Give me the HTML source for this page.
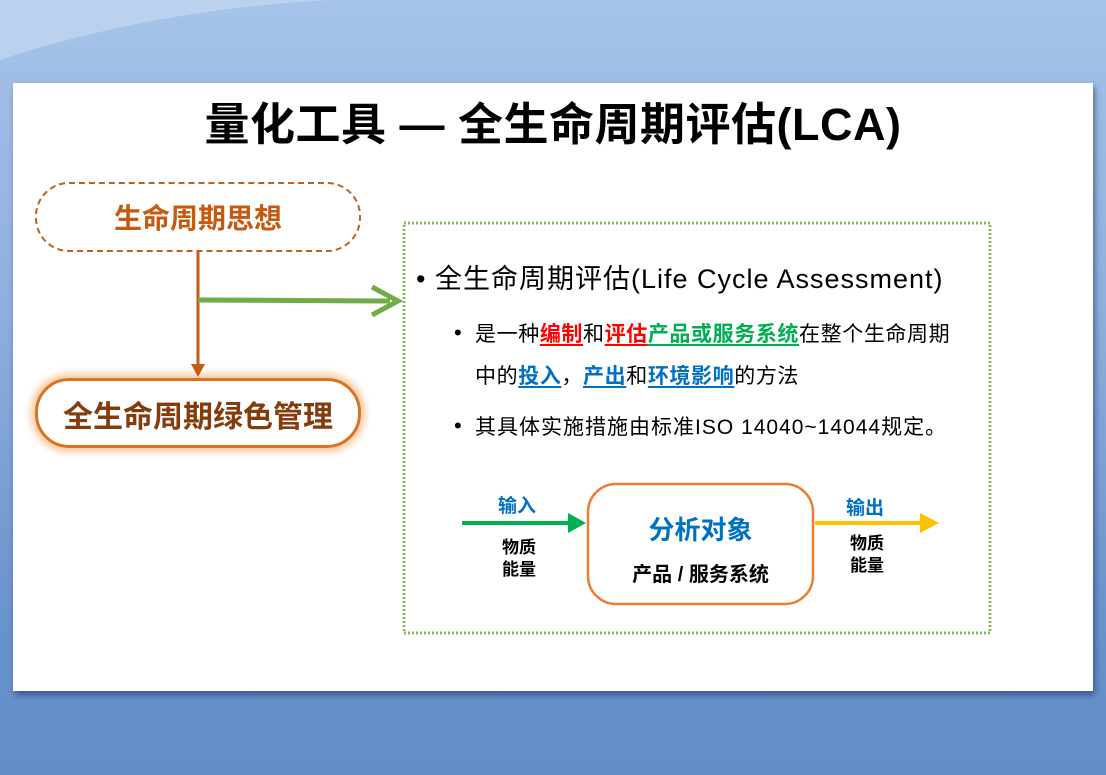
<!DOCTYPE html>
<html><head><meta charset="utf-8"><style>
body{margin:0;width:1106px;height:775px;overflow:hidden;background:linear-gradient(180deg,#a6c3e8 0%,#8fb0dd 40%,#6a93cc 80%,#628ec8 100%);position:relative;font-family:"Liberation Sans","Noto Sans CJK SC",sans-serif}
.a{position:absolute}
.panel{left:13px;top:83px;width:1080px;height:608px;background:#fff;box-shadow:2px 4px 6px rgba(30,50,90,.6)}
.t{white-space:nowrap}
u{text-decoration-thickness:2px;text-underline-offset:3px}
.s{font-size:21px;letter-spacing:0.6px;color:#000}
.b{font-size:22px;font-family:"Liberation Sans",sans-serif}
</style></head><body>
<svg class="a" style="left:0;top:0" width="1106" height="90"><path d="M0 60 Q150 10 330 0 L0 0Z" fill="#c4d8f2" opacity=".7"/></svg>
<div class="a panel"></div>
<div class="a t" style="left:0;width:1106px;top:88px;text-align:center;font-size:45px;letter-spacing:0.5px;font-weight:bold;color:#000">量化工具 — 全生命周期评估(LCA)</div>
<div class="a" style="left:35px;top:182px;width:322px;height:66px;border:2.5px dashed #c0601c;border-radius:34px"></div>
<div class="a t" style="left:35px;width:326px;top:197px;text-align:center;font-size:28px;font-weight:bold;color:#c55a11">生命周期思想</div>
<div class="a" style="left:35px;top:378px;width:320px;height:64px;border:3px solid #d9731f;border-radius:34px;box-shadow:0 0 8px 4px #f6c79a"></div>
<div class="a t" style="left:35px;width:326px;top:392px;text-align:center;font-size:30px;font-weight:bold;color:#843c0c">全生命周期绿色管理</div>
<svg class="a" style="left:0;top:0" width="1106" height="775">
<line x1="198" y1="250" x2="198" y2="368" stroke="#c55a11" stroke-width="3"/>
<polygon points="191,364 205,364 198,377" fill="#c55a11"/>
<line x1="198" y1="300" x2="390" y2="301" stroke="#70ad47" stroke-width="5"/>
<polyline points="372,287 398,301 372,315" fill="none" stroke="#70ad47" stroke-width="5"/>
<rect x="404" y="223" width="586" height="410" fill="none" stroke="#8cbb5c" stroke-width="3" stroke-dasharray="2 2"/>
<line x1="462" y1="523" x2="572" y2="523" stroke="#00b050" stroke-width="4"/>
<polygon points="568,513 586,523 568,533" fill="#00b050"/>
<line x1="815" y1="523" x2="922" y2="523" stroke="#ffc000" stroke-width="4"/>
<polygon points="920,513 939,523 920,533" fill="#ffc000"/>
<rect x="588" y="484" width="225" height="120" rx="28" fill="#fff" stroke="#ed7d31" stroke-width="2.5"/>
</svg>
<div class="a t" style="left:416px;top:257px;font-size:27px;letter-spacing:1px;color:#000">• 全生命周期评估(Life Cycle Assessment)</div>
<div class="a t b" style="left:454px;top:320px">•</div>
<div class="a t s" style="left:475px;top:318px">是一种<u style="color:#ff0000;font-weight:bold">编制</u>和<u style="color:#ff0000;font-weight:bold">评估</u><u style="color:#00b050;font-weight:bold">产品或服务系统</u>在整个生命周期</div>
<div class="a t s" style="left:475px;top:360px">中的<u style="color:#0070c0;font-weight:bold">投入</u>，<u style="color:#0070c0;font-weight:bold">产出</u>和<u style="color:#0070c0;font-weight:bold">环境影响</u>的方法</div>
<div class="a t b" style="left:454px;top:413px">•</div>
<div class="a t s" style="left:475px;top:411px;letter-spacing:1px">其具体实施措施由标准ISO 14040~14044规定。</div>
<div class="a t" style="left:498px;top:491px;font-size:19px;font-weight:bold;color:#0070c0">输入</div>
<div class="a t" style="left:502px;top:537px;font-size:17px;font-weight:bold;color:#000;line-height:22px">物质<br>能量</div>
<div class="a t" style="left:846px;top:493px;font-size:19px;font-weight:bold;color:#0070c0">输出</div>
<div class="a t" style="left:850px;top:533px;font-size:17px;font-weight:bold;color:#000;line-height:22px">物质<br>能量</div>
<div class="a t" style="left:588px;width:225px;top:510px;text-align:center;font-size:26px;font-weight:bold;color:#0070c0">分析对象</div>
<div class="a t" style="left:588px;width:225px;top:558px;text-align:center;font-size:20px;font-weight:bold;color:#000">产品 / 服务系统</div>
</body></html>
